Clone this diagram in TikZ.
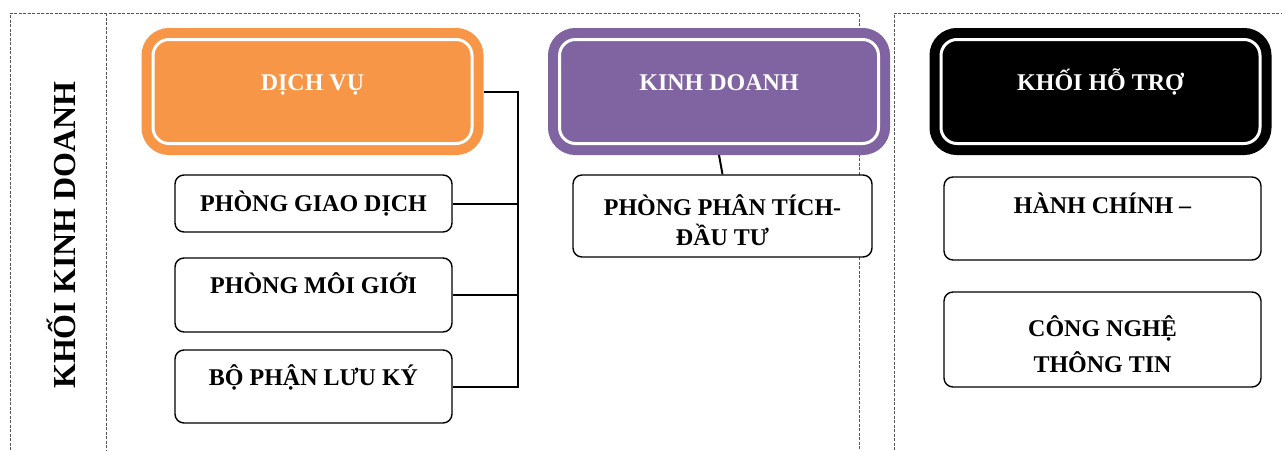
\documentclass[tikz,border=0pt]{standalone}
\usepackage{fontspec}
\setmainfont{Liberation Serif}
\usetikzlibrary{positioning}
\definecolor{dvorange}{HTML}{F79646}
\definecolor{kdpurple}{HTML}{8064A2}
\definecolor{framegray}{HTML}{555555}
\newcommand{\topgap}{\rule{0pt}{30pt}}
\tikzset{
  headbox/.style={draw=#1, fill=#1, double=white, double distance=3pt, line width=10pt,
                  rounded corners=16pt, minimum width=319pt, minimum height=104pt,
                  inner sep=0pt, outer sep=11.5pt, text=white, text height=17pt, text depth=20pt,
                  font=\bfseries\fontsize{24}{28}\selectfont},
  unitbox/.style={draw=black, line width=1.4pt, fill=white, rounded corners=9pt,
                  minimum width=277pt, inner sep=0pt, align=center,
                  font=\bfseries\fontsize{24}{30}\selectfont},
  framedash/.style={draw=framegray, line width=0.9pt, dash pattern=on 3pt off 1.5pt},
  link/.style={draw=black, line width=2pt}}
\begin{document}
\begin{tikzpicture}[x=1pt,y=-1pt]
  \useasboundingbox (0,0) rectangle (1282,450);
  \draw[framedash] (10,450) -- (10,13) -- (859,13) -- (859,450);
  \draw[framedash] (106,13) -- (106,450);
  \draw[framedash] (894,450) -- (894,13) -- (1282,13);
  \node[rotate=90, anchor=base, font=\bfseries\fontsize{32}{36}\selectfont] (khoikd) at (75,235) {KHỐI KINH DOANH};
  \node[headbox=dvorange] (dichvu) at (312.5,91.5) {DỊCH VỤ};
  \node[headbox=kdpurple] (kinhdoanh) at (719,91.5) {KINH DOANH};
  \node[headbox=black] (hotro) at (1100.5,91.5) {KHỐI HỖ TRỢ};
  \node[unitbox, minimum height=57pt] (giaodich) at (313.5,203.5) {PHÒNG GIAO DỊCH};
  \node[unitbox, minimum height=74pt, text height=17pt, text depth=21pt] (moigioi) at (313.5,295) {PHÒNG MÔI GIỚI};
  \node[unitbox, minimum height=73pt, text height=17pt, text depth=20pt] (luuky) at (313.5,386.5) {BỘ PHẬN LƯU KÝ};
  \node[unitbox, minimum width=299pt, minimum height=82pt] (phantich) at (722.5,216) {\topgap PHÒNG PHÂN TÍCH-\\ĐẦU TƯ};
  \node[unitbox, minimum width=317pt, minimum height=83pt, text height=17pt, text depth=28pt] (hanhchinh) at (1102.5,218.5) {HÀNH CHÍNH –};
  \node[unitbox, minimum width=317pt, minimum height=95pt] (congnghe) at (1102.5,339.5) {\topgap CÔNG NGHỆ\\[6pt]THÔNG TIN};
  \coordinate (bus) at (518,0);
  \draw[link] (dichvu.east) -- (dichvu.east -| bus) |- (luuky.east);
  \draw[link] (giaodich.east) -- (giaodich.east -| bus);
  \draw[link] (moigioi.east) -- (moigioi.east -| bus);
  \draw[link] (kinhdoanh.south) -- (phantich.north);
\end{tikzpicture}
\end{document}
